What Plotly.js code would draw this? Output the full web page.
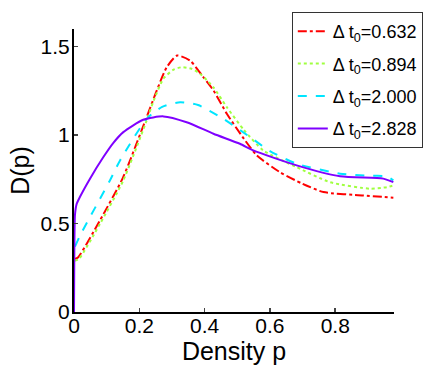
<!DOCTYPE html>
<html>
<head>
<meta charset="utf-8">
<script src="https://cdn.plot.ly/plotly-3.0.1.min.js"></script>
<style>
  html, body { margin: 0; padding: 0; background: #fff; }
  #chart { width: 436px; height: 368px; }
</style>
</head>
<body>
<div id="chart"></div>
<script>
// values
var names = ["\u0394 t<sub>0</sub>=0.632", "\u0394 t<sub>0</sub>=0.894", "\u0394 t<sub>0</sub>=2.000", "\u0394 t<sub>0</sub>=2.828"];

var p_red = [0.003, 0.013, 0.08, 0.15, 0.22, 0.253, 0.284, 0.316, 0.355, 0.396, 0.427, 0.468, 0.52, 0.56, 0.631, 0.70, 0.764, 0.886, 0.978];
var d_red = [0.30, 0.31, 0.52, 0.76, 1.09, 1.25, 1.384, 1.45, 1.422, 1.328, 1.253, 1.121, 0.98, 0.885, 0.79, 0.725, 0.678, 0.659, 0.646];

var p_green = [0.003, 0.015, 0.08, 0.15, 0.22, 0.243, 0.274, 0.305, 0.33, 0.36, 0.386, 0.427, 0.468, 0.52, 0.58, 0.682, 0.784, 0.907, 0.958, 0.978];
var d_green = [0.29, 0.30, 0.50, 0.74, 1.07, 1.19, 1.32, 1.37, 1.384, 1.375, 1.347, 1.27, 1.158, 1.03, 0.913, 0.819, 0.734, 0.697, 0.706, 0.716];

var p_cyan = [0.003, 0.018, 0.11, 0.141, 0.223, 0.27, 0.325, 0.38, 0.457, 0.539, 0.60, 0.682, 0.815, 0.90, 0.958, 0.978];
var d_cyan = [0.37, 0.43, 0.744, 0.857, 1.093, 1.16, 1.186, 1.17, 1.093, 0.989, 0.91, 0.838, 0.782, 0.77, 0.767, 0.744];

var p_purple = [0, 0.001, 0.003, 0.008, 0.018, 0.049, 0.09, 0.12, 0.151, 0.212, 0.274, 0.345, 0.427, 0.508, 0.549, 0.682, 0.815, 0.947, 0.978];
var d_purple = [0, 0.35, 0.55, 0.61, 0.65, 0.754, 0.876, 0.955, 1.017, 1.087, 1.106, 1.073, 1.008, 0.951, 0.914, 0.829, 0.767, 0.754, 0.734];

var xticks = [0, 0.2, 0.4, 0.6, 0.8];
var xticktext = ["0", "0.2", "0.4", "0.6", "0.8"];
var yticks = [0, 0.5, 1, 1.5];
var yticktext = ["0", "0.5", "1", "1.5"];

var font = "Liberation Sans, Arial, sans-serif";

function trace(x, y, name, color, dash, group) {
  return {
    x: x,
    y: y,
    mode: "lines",
    name: name,
    legendgroup: group,
    line: { color: color, width: 2, dash: dash, shape: "spline", smoothing: 0.6 },
  };
}

Plotly.newPlot(
  "chart",
  [
    trace(p_red, d_red, names[0], "#ff0000", "dashdot", "a"),
    trace(p_green, d_green, names[1], "#a0ff40", "dot", "b"),
    trace(p_cyan, d_cyan, names[2], "#00e5ff", "dash", "c"),
    trace(p_purple, d_purple, names[3], "#7f00ff", "solid", "d"),
  ],
  {
    width: 436,
    height: 368,
    margin: { l: 74, r: 42, t: 29, b: 56 },
    paper_bgcolor: "#fff",
    plot_bgcolor: "#fff",
    font: { family: font, size: 21, color: "#000" },
    xaxis: {
      range: [0, 0.98],
      tickvals: xticks,
      ticktext: xticktext,
      ticks: "inside",
      ticklen: 4,
      tickwidth: 1.5,
      ticklabelstandoff: -6,
      showline: true,
      linewidth: 2,
      linecolor: "#000",
      showgrid: false,
      zeroline: false,
      title: { text: "Density p", standoff: 0 },
      fixedrange: true,
    },
    yaxis: {
      range: [0, 1.6],
      tickvals: yticks,
      ticktext: yticktext,
      ticks: "inside",
      ticklen: 4,
      tickwidth: 1.5,
      ticklabelstandoff: -2,
      showline: true,
      linewidth: 2,
      linecolor: "#000",
      showgrid: false,
      zeroline: false,
      title: { text: "D(p)", standoff: 4 },
      fixedrange: true,
    },
    showlegend: true,
    legend: {
      x: 1.09,
      y: 1.06,
      xanchor: "right",
      yanchor: "top",
      bgcolor: "#fff",
      bordercolor: "#333",
      borderwidth: 1,
      itemwidth: 30,
      font: { family: font, size: 18, color: "#000" },
      tracegroupgap: 6,
    },
  },
  { displayModeBar: false, staticPlot: true }
);
</script>
</body>
</html>
